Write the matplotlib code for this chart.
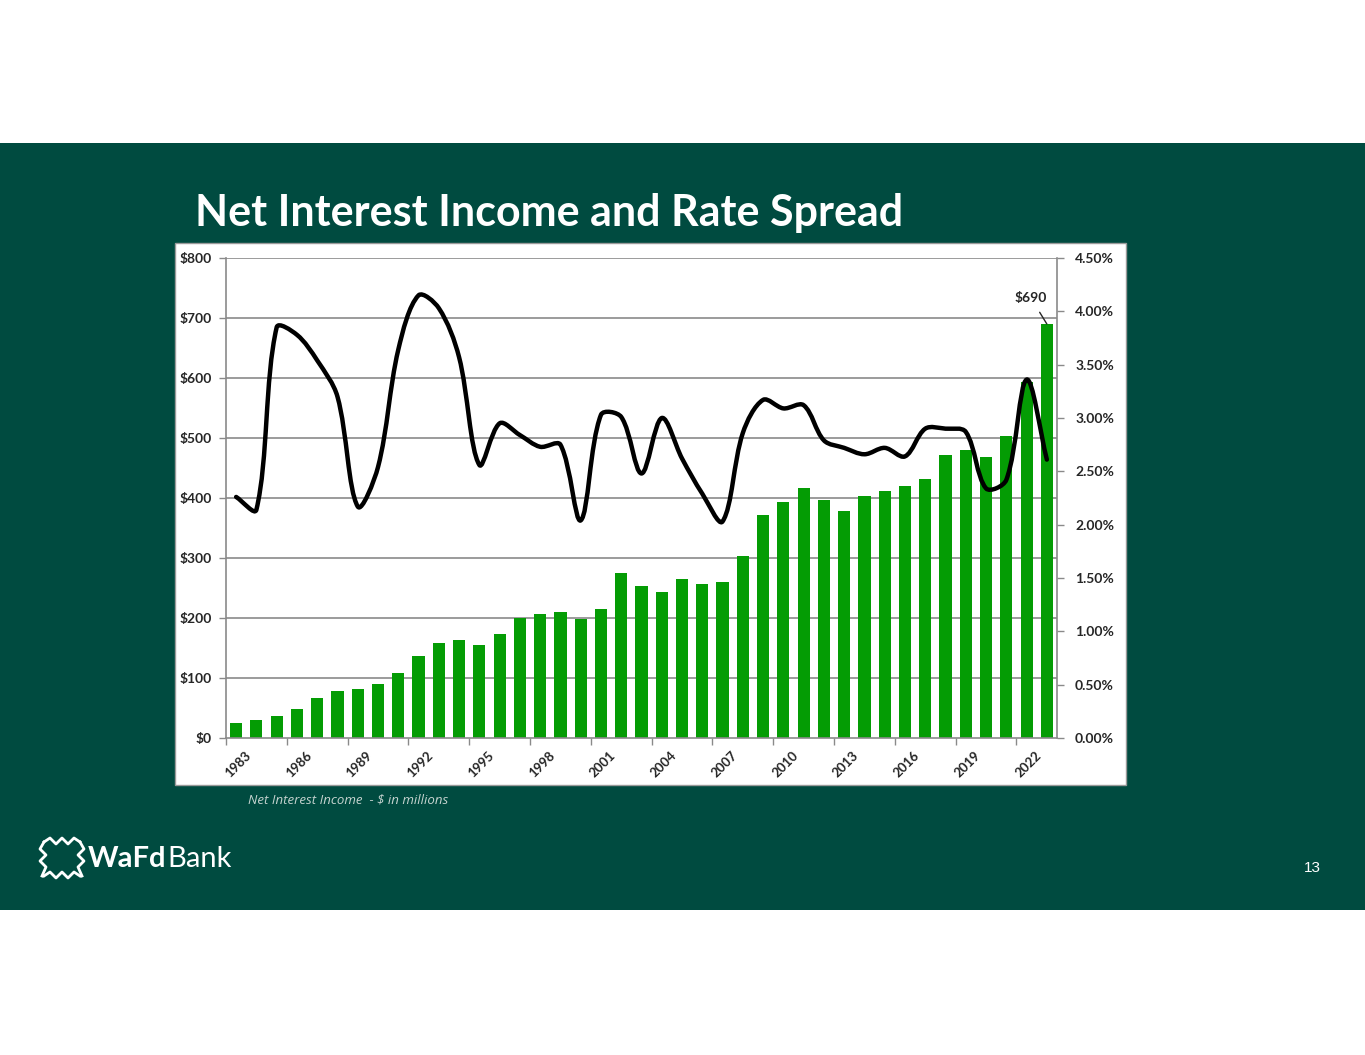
import numpy as np
import matplotlib.pyplot as plt
from matplotlib.patches import Rectangle, PathPatch
from matplotlib.path import Path

years = list(range(1983, 2024))
nii = [25, 30, 37, 48, 67, 79, 81, 90, 109, 137,
       158, 164, 155, 174, 200, 206, 210, 198, 215, 275,
       253, 243, 265, 256, 260, 303, 372, 393, 416, 397,
       379, 404, 412, 420, 431, 471, 480, 469, 503, 594, 690]
spread = [2.26, 2.14, 3.85, 3.78, 3.54, 3.20, 2.17, 2.54, 3.64, 4.15,
          4.03, 3.57, 2.56, 2.95, 2.84, 2.73, 2.75, 2.04, 3.03, 3.01,
          2.48, 3.00, 2.62, 2.29, 2.03, 2.86, 3.17, 3.09, 3.12, 2.79,
          2.72, 2.66, 2.72, 2.64, 2.90, 2.90, 2.87, 2.34, 2.42, 3.36, 2.61]
left_ticks = [0, 100, 200, 300, 400, 500, 600, 700, 800]
right_ticks = [0, 0.5, 1.0, 1.5, 2.0, 2.5, 3.0, 3.5, 4.0, 4.5]

W, H = 1365, 1055
bg = '#004b40'
bar_c = '#049c04'
grid_c = '#8a8a8a'
txt_c = '#262626'
fnt = ['Lato', 'DejaVu Sans']

fig = plt.figure(figsize=(W/100, H/100), dpi=100)
fig.patch.set_facecolor('white')

# green slide band + white chart box
fig.add_artist(Rectangle((0, 1-910/H), 1, 767/H, transform=fig.transFigure,
                         facecolor=bg, edgecolor='none', zorder=-3))
fig.add_artist(Rectangle((175/W, 1-785/H), 951/W, 542/H, transform=fig.transFigure,
                         facecolor='white', edgecolor='#9a9a9a', lw=1, zorder=-2))

ax = fig.add_axes([226/W, 1-738/H, 831/W, 480/H])
x = np.arange(len(years))
ax.bar(x, nii, width=0.6, color=bar_c, zorder=2)
ax.set_xlim(-0.5, len(years)-0.5)
ax.set_ylim(0, 800)
ax.set_yticks(left_ticks)
ax.set_yticklabels(['$%d' % v for v in left_ticks], fontfamily=fnt,
                   fontweight='bold', fontsize=10, color=txt_c)
for v in left_ticks[1:]:
    ax.axhline(v, color=grid_c, lw=1.2, zorder=1)
for s in ['left', 'bottom', 'right']:
    ax.spines[s].set_color(grid_c)
    ax.spines[s].set_linewidth(1.2)
ax.spines['top'].set_visible(False)
ax.tick_params(axis='y', length=5, color=grid_c, width=1, pad=5)

# x ticks at category boundaries every 3 years, labels under category centres
ax.set_xticks(np.arange(-0.5, len(years), 3))
ax.set_xticklabels([])
ax.tick_params(axis='x', length=5, color=grid_c, width=1)
for i in range(0, len(years), 3):
    ax.annotate(str(years[i]), xy=(x[i], 0), xycoords=('data', 'axes fraction'),
                xytext=(6, -8), textcoords='offset points', rotation=45,
                ha='right', va='top', rotation_mode='anchor',
                fontfamily=fnt, fontweight='bold', fontsize=9.5, color=txt_c)

ax2 = ax.twinx()
ax2.set_ylim(0, 4.5)
ax2.set_yticks(right_ticks)
ax2.set_yticklabels(['%.2f%%' % v for v in right_ticks], fontfamily=fnt,
                    fontweight='bold', fontsize=10, color=txt_c)
ax2.tick_params(axis='y', length=5, color=grid_c, width=1, pad=8)
for s in ax2.spines.values():
    s.set_visible(False)

# excel-style smoothed line: bezier handles scaled by segment length (in pixels)
tr = ax2.transData
pts = tr.transform(np.column_stack([x, spread]).astype(float))
n = len(pts)
t = 1/3
verts = [pts[0]]
codes = [Path.MOVETO]
for i in range(n-1):
    p0 = pts[i-1] if i > 0 else pts[i]
    p1 = pts[i]
    p2 = pts[i+1]
    p3 = pts[i+2] if i+2 < n else pts[i+1]
    d01 = np.hypot(*(p1-p0))
    d12 = np.hypot(*(p2-p1))
    d23 = np.hypot(*(p3-p2))
    c1 = p1 + (p2-p0)*t*d12/(d01+d12)
    c2 = p2 - (p3-p1)*t*d12/(d12+d23)
    verts += [c1, c2, p2]
    codes += [Path.CURVE4]*3
verts = tr.inverted().transform(np.array(verts))
ax2.add_patch(PathPatch(Path(verts, codes), facecolor='none', edgecolor='black',
                        lw=3.2, capstyle='round', joinstyle='round', zorder=3))

# label on last bar
ax.annotate('$%d' % nii[-1], xy=(x[-1], nii[-1]), xytext=(x[-1]-0.8, nii[-1]+44),
            ha='center', va='center', fontfamily=fnt, fontweight='bold', fontsize=10,
            color=txt_c,
            arrowprops=dict(arrowstyle='-', color=txt_c, lw=1, shrinkA=5, shrinkB=0))

fig.text(195/W, 1-213/H, 'Net Interest Income and Rate Spread', color='white',
         fontfamily=fnt, fontweight='bold', fontsize=31, va='center', ha='left')
fig.text(248/W, 1-800/H, 'Net Interest Income  - $ in millions', color='#c5d3cf',
         fontfamily=['Open Sans', 'DejaVu Sans'], fontstyle='italic', fontsize=9.5,
         va='center', ha='left')
fig.text(1312/W, 1-868/H, '13', color='white', fontfamily=['Liberation Sans'],
         fontsize=11, va='center', ha='center')

# logo: simple zigzag mark + wordmark
for xs, ys in [([44, 50, 56, 62, 68, 74, 80], [842, 838, 844, 838, 844, 838, 842]),
               ([44, 50, 56, 62, 68, 74, 80], [876, 872, 878, 872, 878, 872, 876]),
               ([44, 40, 46, 40, 46, 42], [842, 849, 855, 861, 867, 876]),
               ([80, 84, 78, 84, 78, 82], [842, 849, 855, 861, 867, 876])]:
    fig.add_artist(plt.Line2D(np.array(xs)/W, 1-np.array(ys)/H, color='white',
                              lw=2, transform=fig.transFigure))
fig.text(88/W, 1-859/H, 'WaFd', color='white', fontfamily=fnt, fontweight='bold',
         fontsize=21, va='center', ha='left')
fig.text(167/W, 1-859/H, 'Bank', color='white', fontfamily=fnt, fontweight='normal',
         fontsize=21, va='center', ha='left')

plt.savefig('out.png', dpi=100, facecolor=fig.get_facecolor())
